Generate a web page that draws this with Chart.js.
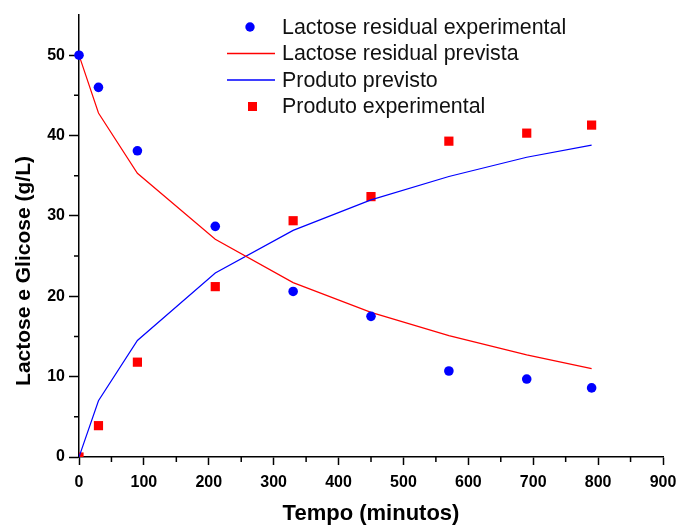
<!DOCTYPE html>
<html lang="pt">
<head>
  <meta charset="UTF-8">
  <title>Lactose e Glicose</title>
  <script src="https://cdn.jsdelivr.net/npm/chart.js"></script>
  <style>
    html, body { margin: 0; padding: 0; background: #fff; }
    #wrap { width: 680px; height: 527px; }
  </style>
</head>
<body>
  <div id="wrap"><canvas id="chart" width="680" height="527"></canvas></div>

  <script>
    // dados
    const tempo = [0, 30, 90, 210, 330, 450, 570, 690, 790];
    const lactoseExp = [50, 46, 38.1, 28.7, 20.6, 17.5, 10.7, 9.7, 8.6];
    const lactosePrev = [50, 42.8, 35.3, 27.1, 21.7, 18, 15.1, 12.7, 11];
    const produtoPrev = [0, 7, 14.5, 22.9, 28.2, 32, 34.9, 37.3, 38.8];
    const produtoExp = [0, 3.9, 11.8, 21.2, 29.4, 32.4, 39.3, 40.3, 41.3];
    const legendLabels = ["Lactose residual experimental", "Lactose residual prevista", "Produto previsto", "Produto experimental"];
    const yTitle = 'Lactose e Glicose (g/L)';

    const FONT = "'Liberation Sans', Arial, sans-serif";
    const pts = ys => tempo.map((t, i) => ({ x: t, y: ys[i] }));

    // ticks menores mais curtos
    const minorTicks = {
      id: 'minorTicks',
      afterDraw(chart) {
        const ctx = chart.ctx;
        const xs = chart.scales.x, ys = chart.scales.y;
        ctx.save();
        ctx.strokeStyle = '#000';
        ctx.lineWidth = 1.5;
        ctx.beginPath();
        for (let v = 50; v < 900; v += 100) {
          const px = xs.getPixelForValue(v);
          ctx.moveTo(px, ys.bottom);
          ctx.lineTo(px, ys.bottom + 5);
        }
        for (let v = 5; v < 55; v += 10) {
          const py = ys.getPixelForValue(v);
          ctx.moveTo(xs.left, py);
          ctx.lineTo(xs.left - 5, py);
        }
        ctx.stroke();

        // título do eixo y (um pouco abaixo do centro, como no original)
        ctx.translate(24, 271);
        ctx.rotate(-Math.PI / 2);
        ctx.font = 'bold 21px ' + FONT;
        ctx.fillStyle = '#000';
        ctx.textAlign = 'center';
        ctx.textBaseline = 'middle';
        ctx.fillText(yTitle, 0, 0);
        ctx.restore();
      }
    };

    // legenda no estilo do Origin
    const legendBox = {
      id: 'legendBox',
      afterDraw(chart) {
        const ctx = chart.ctx;
        const rows = [27, 53.5, 80, 106.5];
        ctx.save();
        ctx.font = '21.4px ' + FONT;
        ctx.textBaseline = 'middle';
        ctx.textAlign = 'left';
        ctx.fillStyle = '#111';
        legendLabels.forEach((txt, i) => ctx.fillText(txt, 282, rows[i] + 1));

        ctx.fillStyle = '#0000ff';
        ctx.beginPath();
        ctx.arc(250, rows[0], 4.7, 0, Math.PI * 2);
        ctx.fill();

        ctx.fillStyle = '#ff0000';
        ctx.fillRect(227, rows[1] - 0.75, 48, 1.5);
        ctx.fillStyle = '#0000ff';
        ctx.fillRect(227, rows[2] - 0.75, 48, 1.5);

        ctx.fillStyle = '#ff0000';
        ctx.fillRect(248, rows[3] - 4.5, 9, 9);
        ctx.restore();
      }
    };

    new Chart(document.getElementById('chart'), {
      type: 'scatter',
      data: {
        datasets: [
          { label: legendLabels[0], data: pts(lactoseExp), pointStyle: 'circle', pointRadius: 4.8,
            backgroundColor: '#0000ff', borderWidth: 0, showLine: false, clip: false },
          { label: legendLabels[1], data: pts(lactosePrev), showLine: true, pointRadius: 0,
            borderColor: '#ff0000', borderWidth: 1.2, tension: 0 },
          { label: legendLabels[2], data: pts(produtoPrev), showLine: true, pointRadius: 0,
            borderColor: '#0000ff', borderWidth: 1.2, tension: 0 },
          { label: legendLabels[3], data: pts(produtoExp), pointStyle: 'rect', pointRadius: 6.5,
            backgroundColor: '#ff0000', borderWidth: 0, showLine: false }
        ]
      },
      options: {
        responsive: false,
        animation: false,
        layout: { padding: { top: 15, right: 17, left: 0, bottom: 0 } },
        plugins: { legend: { display: false }, tooltip: { enabled: false } },
        scales: {
          x: {
            type: 'linear', min: 0, max: 900,
            afterFit: s => { s.height = 70; s.paddingRight = 0; s.paddingLeft = 0; },
            ticks: {
              stepSize: 50, autoSkip: false, maxRotation: 0, color: '#000', padding: 8,
              font: { family: FONT, size: 16, weight: 'bold' },
              callback: v => (v % 100 === 0 ? v : '')
            },
            grid: {
              drawOnChartArea: false, tickLength: 8, tickWidth: 1.5,
              tickColor: c => (c.tick && c.tick.value % 100 === 0 ? '#000' : 'rgba(0,0,0,0)')
            },
            border: { color: '#000', width: 1.5 },
            title: {
              display: true, text: 'Tempo (minutos)', color: '#000',
              font: { family: FONT, size: 22, weight: 'bold' },
              padding: { top: 0, bottom: 0 }
            }
          },
          y: {
            type: 'linear', min: 0, max: 55,
            afterFit: s => { s.width = 79; s.paddingTop = 0; s.paddingBottom = 0; },
            afterBuildTicks: s => { s.ticks = s.ticks.filter(t => t.value <= 50); },
            ticks: {
              stepSize: 10, color: '#000', padding: 4,
              font: { family: FONT, size: 16, weight: 'bold' }
            },
            grid: { drawOnChartArea: false, tickLength: 10, tickWidth: 1.5, tickColor: '#000' },
            border: { color: '#000', width: 1.5 },
            title: { display: false }
          }
        }
      },
      plugins: [minorTicks, legendBox]
    });
  </script>
</body>
</html>
